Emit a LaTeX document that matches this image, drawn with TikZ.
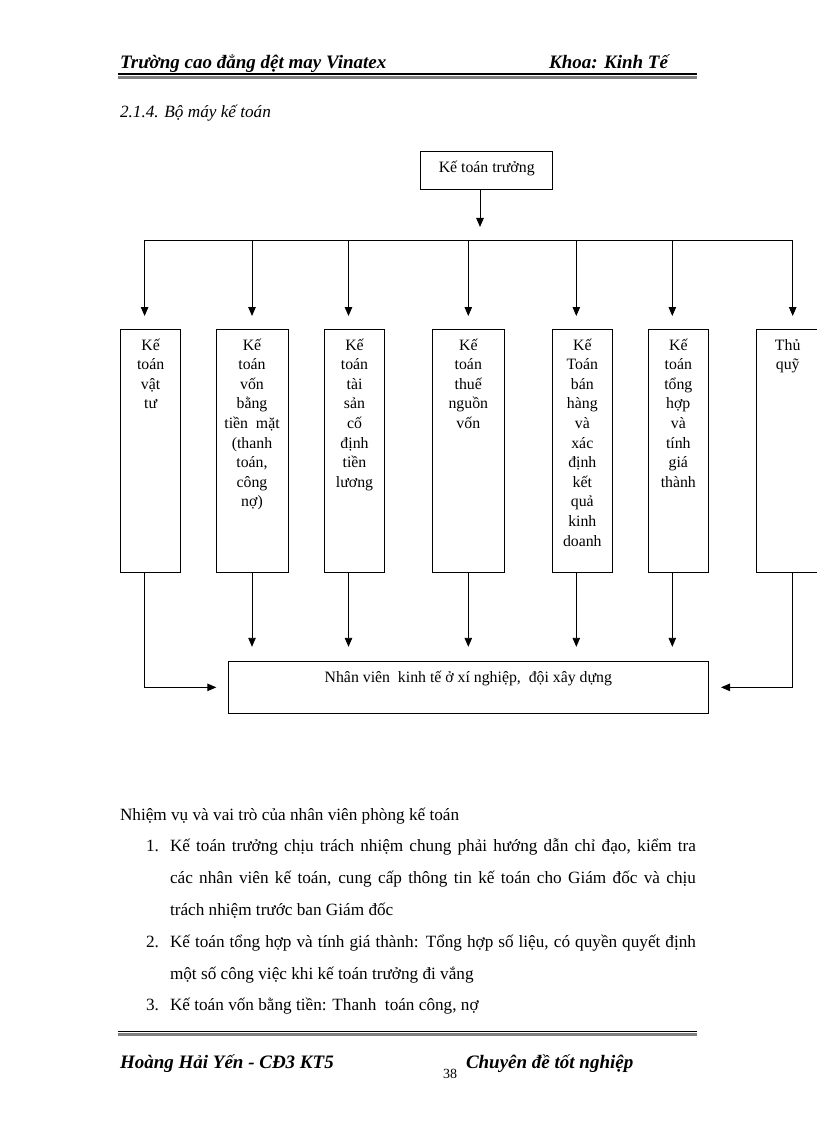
\documentclass[tikz,border=0pt]{standalone}
\usepackage{fontspec}
\setmainfont{Liberation Serif}
\usetikzlibrary{arrows.meta}
\begin{document}
\begin{tikzpicture}[x=1pt,y=-1pt,
  every node/.style={inner sep=0pt, outer sep=0pt},
  lbl/.style={anchor=base west},
  hdr/.style={font=\fontsize{19}{22}\selectfont\bfseries\itshape},
  body/.style={font=\fontsize{17.2}{20}\selectfont},
  box/.style={draw, line width=0.9pt, anchor=north west, font=\fontsize{15.8}{19.6}\selectfont},
  arr/.style={line width=0.9pt, -{Triangle[length=9pt,width=7.5pt]}},
  ln/.style={line width=0.9pt}
]
\useasboundingbox (0,0) rectangle (816,1123);

% header
\node[hdr, lbl] (h1) at (120,69) {Trường cao đẳng dệt may Vinatex};
\node[hdr, anchor=base east] (h2) at (668,69) {Khoa: Kinh Tế};
\draw[line width=2pt] (118,74.5) -- (697,74.5);
\draw[line width=2.5pt, gray] (118,77.5) -- (697,77.5);

\node[lbl, font=\fontsize{17.2}{20}\selectfont\itshape] (sec) at (120,118) {2.1.4. Bộ máy kế toán};

% diagram
\node[box] (top) at (420.7,151.7) {\parbox[t][37.6pt][t]{132pt}{\centering\rule{0pt}{21pt}Kế toán trưởng}};

\node[box] (b1) at (120.5,329) {\parbox[t][243.5pt][t]{60.2pt}{\centering\rule{0pt}{21pt}Kế\\toán\\vật\\tư}};
\node[box] (b2) at (216,329) {\parbox[t][243.5pt][t]{72pt}{\centering\rule{0pt}{21pt}Kế\\toán\\vốn\\bằng\\tiền \ mặt\\(thanh\\toán,\\công\\nợ)}};
\node[box] (b3) at (324.3,329) {\parbox[t][243.5pt][t]{60.4pt}{\centering\rule{0pt}{21pt}Kế\\toán\\tài\\sản\\cố\\định\\tiền\\lương}};
\node[box] (b4) at (432.3,329) {\parbox[t][243.5pt][t]{72pt}{\centering\rule{0pt}{21pt}Kế\\toán\\thuế\\nguồn\\vốn}};
\node[box] (b5) at (552.3,329) {\parbox[t][243.5pt][t]{60pt}{\centering\rule{0pt}{21pt}Kế\\Toán\\bán\\hàng\\và\\xác\\định\\kết\\quả\\kinh\\doanh}};
\node[box] (b6) at (648.3,329) {\parbox[t][243.5pt][t]{60pt}{\centering\rule{0pt}{21pt}Kế\\toán\\tổng\\hợp\\và\\tính\\giá\\thành}};
\node[box] (b7) at (756.7,329) {\parbox[t][243.5pt][t]{62pt}{\centering\rule{0pt}{21pt}Thủ\\quỹ}};

\node[box] (bot) at (228.3,661.7) {\parbox[t][51.3pt][t]{480pt}{\centering\rule{0pt}{21pt}Nhân viên \ kinh tế ở xí nghiệp, \ đội xây dựng}};

% connectors
\coordinate (busL) at (144.3,240.5);
\coordinate (busR) at (792.7,240.5);
\draw[arr] ([xshift=-6.7pt]top.south) -- ([xshift=-6.7pt,yshift=13.5pt]top.south |- busL);
\draw[ln] (busL) -- (busR);
\foreach \n/\s in {b1/-6,b2/0,b3/-6,b4/0,b5/-6,b6/-6,b7/5}{
  \draw[arr] ([xshift=\s pt,yshift=88.5pt]\n.north) -- ([xshift=\s pt,yshift=13pt]\n.north);
}
\foreach \n/\s in {b2/0,b3/-6,b4/0,b5/-6,b6/-6}{
  \draw[arr] ([xshift=\s pt]\n.south) -- ([xshift=\s pt,yshift=-74.3pt]\n.south);
}
\draw[arr] ([xshift=-6pt]b1.south) |- ([xshift=-12pt]bot.west);
\draw[arr] ([xshift=5pt]b7.south) |- ([xshift=12.7pt]bot.east);

% body text
\begin{scope}[every node/.append style={body}]
\node[lbl] (p0) at (120,820) {Nhiệm vụ và vai trò của nhân viên phòng kế toán};
\node[lbl] (n1) at (146,851.8) {1.};
\node[lbl] (l1) at (170,851.8) {\makebox[526pt][s]{Kế toán trưởng chịu trách nhiệm chung phải hướng dẫn chỉ đạo, kiểm tra}};
\node[lbl] (l2) at (170,883.6) {\makebox[526pt][s]{các nhân viên kế toán, cung cấp thông tin kế toán cho Giám đốc và chịu}};
\node[lbl] (l3) at (170,915.4) {trách nhiệm trước ban Giám đốc};
\node[lbl] (n2) at (146,947.2) {2.};
\node[lbl] (l4) at (170,947.2) {\makebox[526pt][s]{Kế toán tổng hợp và tính giá thành: Tổng hợp số liệu, có quyền quyết định}};
\node[lbl] (l5) at (170,979) {một số công việc khi kế toán trưởng đi vắng};
\node[lbl] (n3) at (146,1010.8) {3.};
\node[lbl] (l6) at (170,1010.8) {Kế toán vốn bằng tiền: Thanh \ toán công, nợ};
\end{scope}

% footer
\draw[line width=1.2pt] (118,1031.5) -- (697,1031.5);
\draw[line width=2.5pt, gray] (118,1034.5) -- (697,1034.5);
\node[hdr, lbl] (f1) at (120,1068) {Hoàng Hải Yến - CĐ3 KT5};
\node[lbl, font=\fontsize{14}{16}\selectfont] (pg) at (443,1078) {38};
\node[hdr, lbl] (f2) at (466,1068) {Chuyên đề tốt nghiệp};
\end{tikzpicture}
\end{document}
